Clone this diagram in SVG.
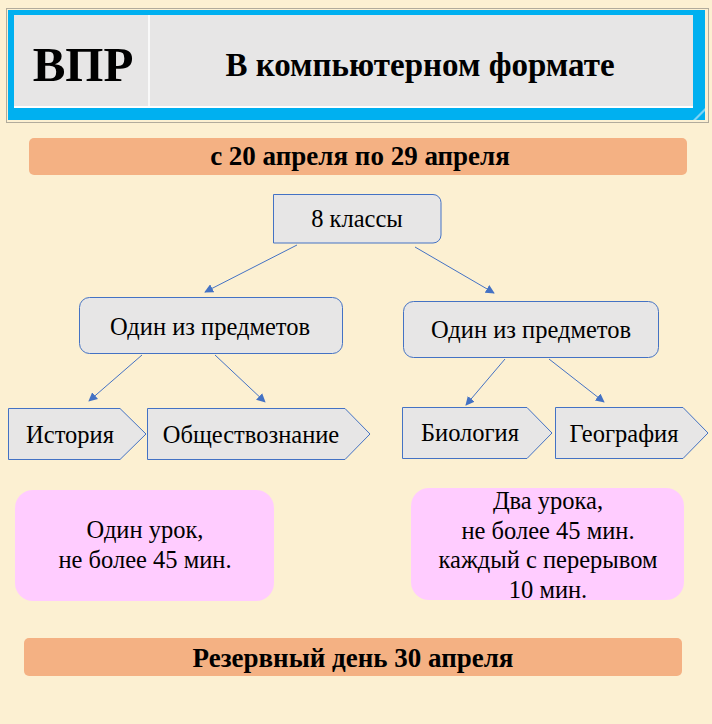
<svg xmlns="http://www.w3.org/2000/svg" width="712" height="724" viewBox="0 0 712 724">
<style>
text{font-family:"Liberation Serif","Times New Roman",serif;fill:#000;text-anchor:middle}
.b{font-weight:bold}
.t{font-size:24.5px}
.n{fill:#E7E6E6;stroke:#4472C4;stroke-width:1}
.bar{fill:#F4B183}
.pink{fill:#FFCCFF}
.c{stroke:#4472C4;stroke-width:1;fill:none;marker-end:url(#ah)}
</style>
<defs>
<marker id="ah" viewBox="0 0 10 10" refX="9" refY="5" markerWidth="9" markerHeight="9" markerUnits="userSpaceOnUse" orient="auto">
<path d="M0,0 L10,5 L0,10 z" fill="#4472C4"/>
</marker>
</defs>
<rect width="712" height="724" fill="#FCF0D2"/>
<g id="header">
<rect x="6.5" y="8.5" width="702" height="114" fill="none" stroke="#666" stroke-dasharray="1,1"/>
<rect x="8" y="10" width="697" height="110" fill="#00B0F0"/>
<rect x="14" y="15" width="679" height="93" fill="#E7E6E6"/>
<line x1="14" y1="107" x2="693" y2="107" stroke="#fff" stroke-width="2"/>
<line x1="149" y1="15" x2="149" y2="107" stroke="#fff" stroke-width="1.5"/>
<polygon points="693,120 705,108 705,111 696,120" fill="#7FD3F5"/>
<text class="b" x="83" y="81" font-size="49">ВПР</text>
<text class="b" x="420" y="76" font-size="33">В компьютерном формате</text>
</g>
<g id="dates">
<rect class="bar" x="29" y="138" width="658" height="37" rx="5"/>
<text class="b" x="360" y="165" font-size="27">с 20 апреля по 29 апреля</text>
</g>
<g id="grade8">
<path class="n" d="M273.5,194.5 H433 a8,8 0 0 1 8,8 V235 a8,8 0 0 1 -8,8 H273.5 z"/>
<text class="t" x="357" y="227">8 классы</text>
</g>
<g id="subjLeft">
<rect class="n" x="79.5" y="297.5" width="263" height="56" rx="10"/>
<text class="t" x="210" y="335">Один из предметов</text>
</g>
<g id="subjRight">
<rect class="n" x="403.5" y="301.5" width="255" height="56" rx="10"/>
<text class="t" x="531" y="338">Один из предметов</text>
</g>
<g id="history">
<polygon class="n" points="8.5,408.5 120,408.5 146,434 120,459.5 8.5,459.5"/>
<text class="t" x="70" y="443">История</text>
</g>
<g id="social">
<polygon class="n" points="147.5,408.5 345,408.5 370,434 345,459.5 147.5,459.5"/>
<text class="t" x="251" y="443">Обществознание</text>
</g>
<g id="biology">
<polygon class="n" points="402.5,407.5 527,407.5 552,433 527,458.5 402.5,458.5"/>
<text class="t" x="470" y="441">Биология</text>
</g>
<g id="geography">
<polygon class="n" points="555.5,407.5 683,407.5 708,433 683,458.5 555.5,458.5"/>
<text class="t" x="624" y="442">География</text>
</g>
<g id="oneLesson">
<rect class="pink" x="15" y="490" width="259" height="111" rx="18"/>
<text class="t" x="145" y="538">Один урок,</text>
<text class="t" x="145" y="568">не более 45 мин.</text>
</g>
<g id="twoLessons">
<rect class="pink" x="411" y="488" width="273" height="112" rx="18"/>
<text class="t" x="548" y="509">Два урока,</text>
<text class="t" x="548" y="539">не более 45 мин.</text>
<text class="t" x="548" y="568">каждый с перерывом</text>
<text class="t" x="548" y="598">10 мин.</text>
</g>
<g id="reserve">
<rect class="bar" x="24" y="638" width="658" height="38" rx="5"/>
<text class="b" x="353" y="667" font-size="27">Резервный день 30 апреля</text>
</g>
<g id="connectors">
<line class="c" x1="297" y1="245" x2="205" y2="292"/>
<line class="c" x1="415" y1="247" x2="494" y2="293"/>
<line class="c" x1="142" y1="355" x2="89" y2="401"/>
<line class="c" x1="215" y1="355" x2="265" y2="402"/>
<line class="c" x1="505" y1="359" x2="466" y2="405"/>
<line class="c" x1="549" y1="359" x2="604" y2="402"/>
</g>
</svg>
